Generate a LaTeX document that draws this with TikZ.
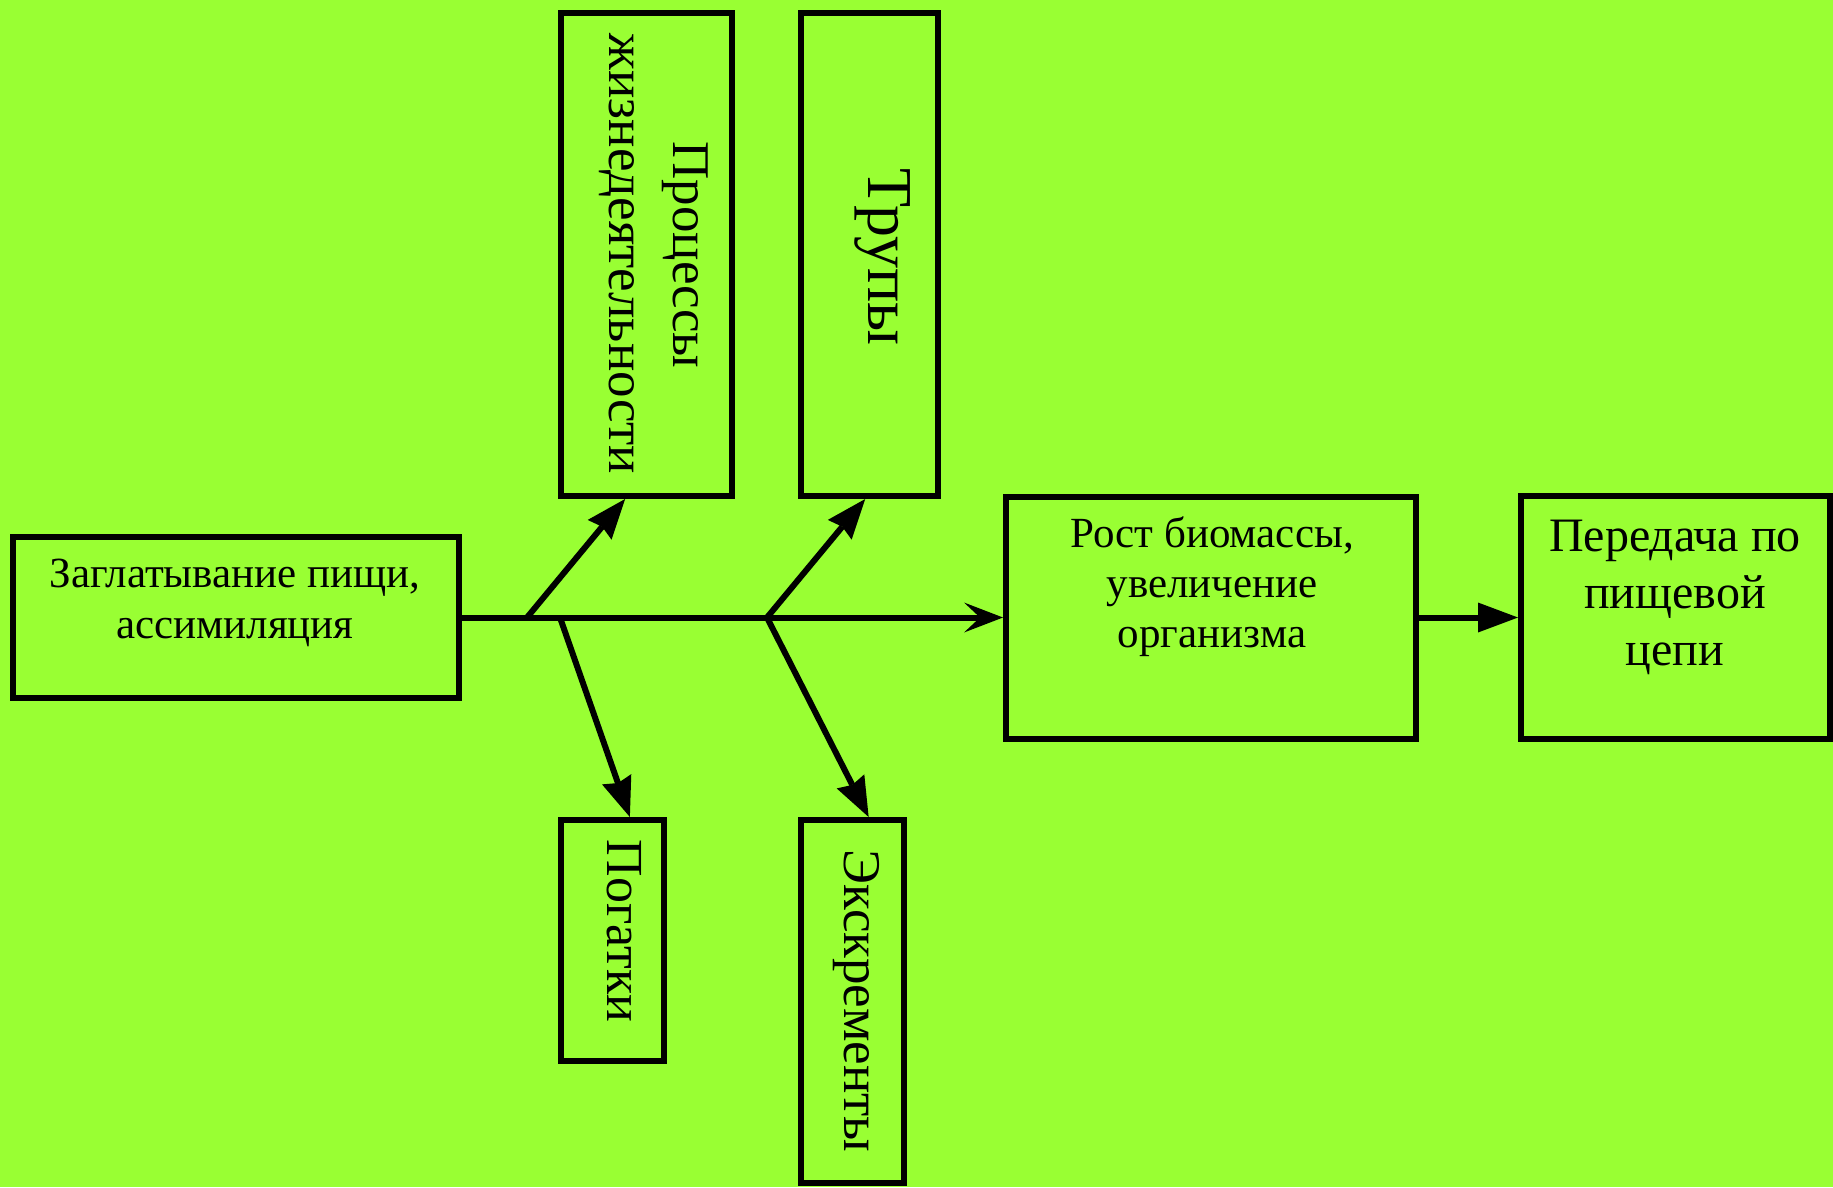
\documentclass[tikz,border=0pt]{standalone}
\usepackage{fontspec}
\setmainfont{Liberation Serif}
\usetikzlibrary{arrows.meta}
\definecolor{bg}{RGB}{153,255,51}
\begin{document}
\begin{tikzpicture}[x=1pt,y=-1pt,
  box/.style={draw=black, line width=6pt, fill=bg, inner sep=0pt, rectangle},
  txt/.style={anchor=base, inner sep=0pt, text=black},
  vtxt/.style={anchor=base, inner sep=0pt, rotate=-90, text=black},
  branch/.style={line width=6pt, -{Stealth[length=40pt,width=31pt,inset=4pt,line width=0pt]}},
  mainarrow/.style={line width=6pt, -{Stealth[length=39pt,width=30pt,inset=16pt,line width=0pt]}},
  flow/.style={line width=6pt, -{Triangle[length=40pt,width=30pt,line width=0pt]}}
]
\useasboundingbox (0,0) rectangle (1833,1187);
\fill[bg] (0,0) rectangle (1833,1187);

% boxes
\node[box, minimum width=446pt, minimum height=161pt] (zag) at (235.5,617.5) {};
\node[box, minimum width=171pt, minimum height=483pt] (proc) at (646.5,254.5) {};
\node[box, minimum width=137pt, minimum height=483pt] (trupy) at (869.5,254.5) {};
\node[box, minimum width=103pt, minimum height=241pt] (pog) at (612.5,940.5) {};
\node[box, minimum width=103pt, minimum height=363pt] (eks) at (852.5,1001.5) {};
\node[box, minimum width=410pt, minimum height=242pt] (rost) at (1211,617.5) {};
\node[box, minimum width=309pt, minimum height=243pt] (pered) at (1675.5,617.5) {};

% texts
\node[txt, font=\fontsize{43}{51}\selectfont] (zag1) at (235,587) {Заглатывание пищи,};
\node[txt, font=\fontsize{43}{51}\selectfont] (zag2) at (235,638) {ассимиляция};

\node[txt, font=\fontsize{43}{50}\selectfont] (rost1) at (1212,547) {Рост биомассы,};
\node[txt, font=\fontsize{43}{50}\selectfont] (rost2) at (1212,597) {увеличение};
\node[txt, font=\fontsize{43}{50}\selectfont] (rost3) at (1212,647) {организма};

\node[txt, font=\fontsize{48}{57}\selectfont] (pered1) at (1675,551) {Передача по};
\node[txt, font=\fontsize{48}{57}\selectfont] (pered2) at (1675,608) {пищевой};
\node[txt, font=\fontsize{48}{57}\selectfont] (pered3) at (1675,665) {цепи};

\node[vtxt, font=\fontsize{53}{64}\selectfont] (proc1) at (673,255) {Процессы};
\node[vtxt, font=\fontsize{53}{64}\selectfont] (proc2) at (609,254) {жизнедеятельности};
\node[vtxt, font=\fontsize{64}{75}\selectfont] (trupy1) at (868,257) {Трупы};
\node[vtxt, font=\fontsize{52}{60}\selectfont] (pog1) at (607,931) {Погатки};
\node[vtxt, font=\fontsize{53}{62}\selectfont] (eks1) at (844,1001) {Экскременты};

% branch points on the main line
\coordinate (b1) at (527,617.5);
\coordinate (b1d) at (560,617.5);
\coordinate (b2) at (767,617.5);

% connectors
\draw[mainarrow] (zag.east) -- (rost.west);
\draw[flow] (rost.east) -- (pered.west);
\draw[branch] (b1) -- (proc.265.67);
\draw[branch] (b1d) -- (pog.82.85);
\draw[branch] (b2) -- (trupy.269.41);
\draw[branch] (b2) -- (eks.85.2);
\end{tikzpicture}
\end{document}
